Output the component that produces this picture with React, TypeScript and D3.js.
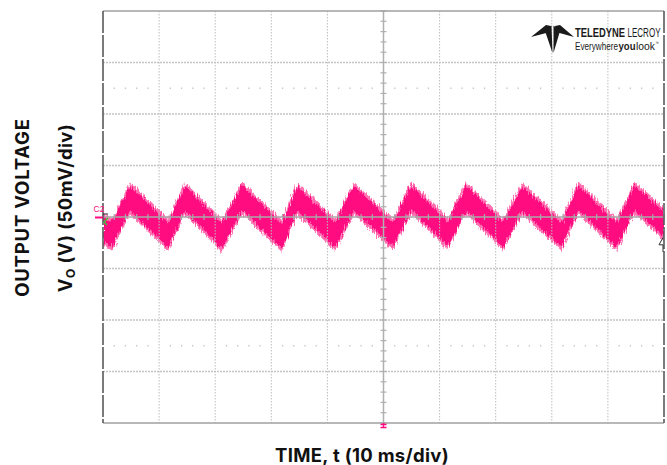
import React from "react";
import * as d3 from "d3";

// ---- data (time in ms, voltage in mV relative to screen centre) ----
const timeMs = [0, 1.6, 4.8, 11.6, 14.6, 21.2, 24.8, 31.9, 34.6, 41.4, 44.7, 51.7, 54.9, 61.5, 64.7, 71.3, 74.7, 81.8, 84.7, 91.6, 94.7, 100];
const voltageMv = [-12, -17, 18, -17.5, 18.5, -18.5, 18.5, -18.5, 18, -17.5, 18, -17, 19, -16.5, 18.5, -17, 18, -17.5, 19, -17.5, 18.5, -7];
const noiseCoreMv = 12;
const noiseFringeMv = 15.5;

const xDivs = d3.range(0, 101, 10); // 10 ms/div
const yDivs = d3.range(-200, 201, 50); // 50 mV/div
const xTitle = "TIME, t (10 ms/div)";
const yTitle1 = "OUTPUT VOLTAGE";
const yTitle2Main = "V";
const yTitle2Sub = "O";
const yTitle2Rest = " (V) (50mV/div)";

const W = 667;
const H = 465;
const L = 103, R = 664, T = 11, B = 423;
const PINK = "#ff0a80";
const FONT = "Inter, sans-serif";
const LOGOFONT = "Liberation Sans Narrow, Liberation Sans, sans-serif";
const LS = 0.63; // horizontal squeeze of logo lettering

export default function App() {
  const x = d3.scaleLinear().domain([0, 100]).range([L, R]);
  const y = d3.scaleLinear().domain([-200, 200]).range([B, T]);
  const pts = timeMs.map((t, i) => ({ t, v: voltageMv[i] }));
  const band = (w: number) =>
    d3
      .area<{ t: number; v: number }>()
      .x((d) => x(d.t))
      .y0((d) => y(d.v - w))
      .y1((d) => y(d.v + w))
      .curve(d3.curveLinear)(pts) || "";

  const minorX = d3.range(0, 101, 2);
  const minorY = d3.range(-200, 201, 10);
  const dotX = minorX.filter((t) => t % 10 !== 0);
  const cx = x(50), cy = y(0);

  return (
    <svg width={W} height={H} style={{ display: "block", position: "absolute", left: 0, top: 0 }}>
      <defs>
        <filter id="fz" x="-2%" y="-40%" width="104%" height="180%">
          <feTurbulence type="fractalNoise" baseFrequency="0.9 0.12" numOctaves={2} seed={7} result="n" />
          <feDisplacementMap in="SourceGraphic" in2="n" scale={7} xChannelSelector="B" yChannelSelector="R" />
        </filter>
        <clipPath id="pc">
          <rect x={L} y={T} width={R - L} height={B - T} />
        </clipPath>
      </defs>
      <rect x={0} y={0} width={W} height={H} fill="#fff" />

      {/* waveform */}
      <g clipPath="url(#pc)">
        <g filter="url(#fz)">
          <path d={band(noiseFringeMv)} fill="#ff4d9e" opacity={0.8} />
          <path d={band(noiseCoreMv)} fill={PINK} />
        </g>
      </g>

      {/* grid */}
      {xDivs.slice(1, -1).filter((t) => t !== 50).map((t) => (
        <line key={"gx" + t} x1={x(t)} x2={x(t)} y1={T} y2={B} stroke="#bdbdbd" strokeWidth={1} strokeDasharray="1.5,1.5" />
      ))}
      {yDivs.slice(1, -1).filter((v) => v !== 0).map((v) => (
        <line key={"gy" + v} x1={L} x2={R} y1={y(v)} y2={y(v)} stroke="#c4c4c4" strokeWidth={1.3} strokeDasharray="2,1" />
      ))}
      {[-125, 125].map((v) =>
        dotX.map((t) => (
          <rect key={"d" + v + "_" + t} x={x(t) - 0.6} y={y(v) - 0.8} width={1.3} height={1.6} fill="#c8c8c8" />
        ))
      )}

      {/* centre axes with minor ticks */}
      <line x1={cx} x2={cx} y1={T} y2={B} stroke="#b0b0b0" strokeWidth={1.5} />
      <line x1={L} x2={R} y1={cy} y2={cy} stroke="#a8a8a8" strokeWidth={1.5} />
      {minorY.map((v) => (
        <line key={"ty" + v} x1={cx - 3} x2={cx + 3} y1={y(v)} y2={y(v)} stroke="#b0b0b0" strokeWidth={1.2} />
      ))}
      {minorX.map((t) => (
        <line key={"tx" + t} x1={x(t)} x2={x(t)} y1={cy - 3} y2={cy + 3} stroke="#a8a8a8" strokeWidth={1.2} />
      ))}

      {/* border */}
      <line x1={L} x2={R} y1={T} y2={T} stroke="#a0a0a0" strokeWidth={1.5} />
      <line x1={L} x2={R} y1={B} y2={B} stroke="#a0a0a0" strokeWidth={1.5} />
      <line x1={L} x2={L} y1={T} y2={B} stroke="#5a5a5a" strokeWidth={1.6} strokeDasharray="22,2" />
      <line x1={R} x2={R} y1={T} y2={B} stroke="#5a5a5a" strokeWidth={1.6} strokeDasharray="22,2" />

      {/* channel marker */}
      <text x={93.5} y={212} fontSize={8.5} fill={PINK} fontFamily="Liberation Sans, Arial, sans-serif">C2</text>
      <line x1={95} x2={103} y1={cy + 0.5} y2={cy + 0.5} stroke={PINK} strokeWidth={2} />
      <path d={`M${L},${cy - 3} L${L + 5},${cy - 3}`} stroke="#222" strokeWidth={1} fill="none" />
      <path d={`M${L + 5},${cy + 1} L${L + 1},${cy + 5} M${L + 1},${cy + 5} L${L + 4},${cy + 8}`} stroke="#2fd02f" strokeWidth={1.3} fill="none" />
      {/* trigger level marker right */}
      <path d={`M${R - 1},${y(-20)} L${R - 5},${y(-27)} L${R - 1},${y(-27)} L${R - 1},${y(-34)}`} stroke="#333" strokeWidth={1} fill="none" />
      {/* trigger position marker bottom */}
      <path d={`M${cx - 3},${B + 1.5} L${cx + 3},${B + 1.5} M${cx},${B} L${cx},${B + 4} M${cx - 3},${B + 4.5} L${cx + 3},${B + 4.5}`} stroke={PINK} strokeWidth={1.3} />

      {/* logo */}
      <g fill="#1a1a1a">
        <path d="M531,37 L546,25 L551,26 L550,32 Z" />
        <path d="M545,31 L551.5,25.5 L552.5,53 Z" />
        <path d="M553.5,25.5 L560,31 L553.5,53 Z" />
        <path d="M555,26 L560,25 L574,37 L556,32 Z" />
      </g>
      <g transform={`translate(575,37) scale(${LS},1)`} fill="#1a1a1a" fontFamily={LOGOFONT}>
        <text x={0} y={0} fontSize={13.5} fontWeight={700} textLength={50 / LS} lengthAdjust="spacingAndGlyphs">TELEDYNE</text>
        <text x={52.5 / LS} y={0} fontSize={13.5} textLength={33 / LS} lengthAdjust="spacingAndGlyphs">LECROY</text>
      </g>
      <g transform={`translate(575,49.5) scale(${LS},1)`} fill="#1a1a1a" fontFamily={LOGOFONT}>
        <text x={0} y={0} fontSize={11.5} textLength={43 / LS} lengthAdjust="spacingAndGlyphs">Everywhere</text>
        <text x={43.5 / LS} y={0} fontSize={11.5} fontWeight={700} textLength={17 / LS} lengthAdjust="spacingAndGlyphs">you</text>
        <text x={61 / LS} y={0} fontSize={11.5} textLength={19 / LS} lengthAdjust="spacingAndGlyphs">look</text>
        <text x={80.5 / LS} y={-5} fontSize={5}>™</text>
      </g>

      {/* axis titles */}
      <text x={362} y={462} textAnchor="middle" fontSize={18.5} fontWeight={700} fontFamily={FONT} letterSpacing={0.3} fill="#111">{xTitle}</text>
      <text transform={`translate(29,207.5) rotate(-90)`} textAnchor="middle" fontSize={18.5} fontWeight={700} fontFamily={FONT} letterSpacing={0.8} fill="#111">{yTitle1}</text>
      <text transform={`translate(72,208) rotate(-90)`} textAnchor="middle" fontSize={18.5} fontWeight={700} fontFamily={FONT} letterSpacing={0.4} fill="#111">
        <tspan>{yTitle2Main}</tspan>
        <tspan fontSize={12} dy={3}>{yTitle2Sub}</tspan>
        <tspan dy={-3}>{yTitle2Rest}</tspan>
      </text>
    </svg>
  );
}
